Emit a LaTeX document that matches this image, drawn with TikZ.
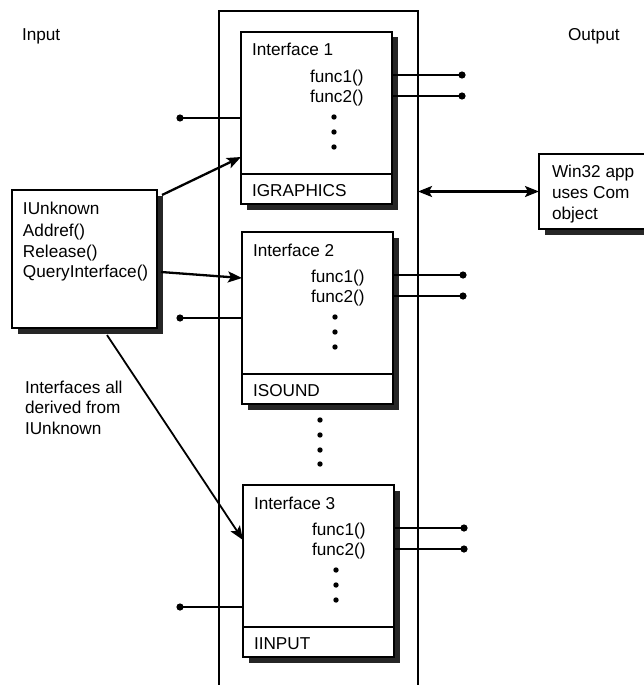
\documentclass[tikz,border=0pt]{standalone}
\usepackage{fontspec}
\setmainfont{Liberation Sans}
\usetikzlibrary{arrows.meta,shadows}

% One COM interface: frame, name, functions, footer tag and its pins.
% #1 name, #2 left x, #3 top y, #4 title, #5 tag, #6 offset of the input pin
\newcommand\ifaceblock[6]{%
  \node[ifbox] (#1) at (#2,#3) {};
  \draw[frameline] ([yshift=30pt]#1.south west) -- ([yshift=30pt]#1.south east);
  \node[lbl] (#1-title) at ({#2+11},{#3+24}) {#4};
  \node[lbl] (#1-f1) at ({#2+69},{#3+50}) {func1()};
  \node[lbl] (#1-f2) at ({#2+69},{#3+70}) {func2()};
  \foreach \d in {85,100,115} \fill ({#2+93},{#3+\d}) circle (2.7pt);
  \node[lbl] (#1-tag) at ({#2+11},{#3+164}) {#5};
  \coordinate (#1-o1) at ({#2+221},{#3+43});
  \coordinate (#1-o2) at ({#2+221},{#3+64});
  \coordinate (#1-in) at (180,{#3+#6});
  \draw[conn] (#1.east |- #1-o1) -- (#1-o1);
  \draw[conn] (#1.east |- #1-o2) -- (#1-o2);
  \draw[conn] (#1-in) -- (#1.west |- #1-in);
  \fill (#1-o1) circle (3.6pt);
  \fill (#1-o2) circle (3.6pt);
  \fill (#1-in) circle (3.6pt);
}

\begin{document}
\begin{tikzpicture}[x=1pt,y=-1pt,
  every node/.style={inner sep=0pt, outer sep=0pt},
  lbl/.style={font=\fontsize{17.2}{20}\selectfont, anchor=base west},
  frameline/.style={line width=1.8pt},
  framebox/.style={draw, frameline, fill=white,
    drop shadow={shadow xshift=5.5pt, shadow yshift=-5.5pt, fill=black!85, opacity=1}},
  ifbox/.style={framebox, minimum width=151pt, minimum height=172pt, anchor=north west},
  conn/.style={line width=2.3pt},
  tip/.tip={Stealth[length=14pt,width=11pt,inset=3pt]},
  arr/.style={conn, -tip},
  dblarr/.style={conn, tip-tip}
]
\useasboundingbox (0,0) rectangle (644,685);
\clip (0,0) rectangle (644,685);

% COM object frame
\node[draw, frameline, minimum width=199pt, minimum height=720pt, anchor=north west] (obj) at (219,11) {};

% column headings
\node[lbl] (inhead) at (22,41) {Input};
\node[lbl] (outhead) at (568,41) {Output};

% the interfaces
\ifaceblock{ia}{241}{32}{Interface 1}{IGRAPHICS}{86}
\ifaceblock{ib}{242}{232}{Interface 2}{ISOUND}{86}
\ifaceblock{ic}{243}{485}{Interface 3}{IINPUT}{122}

% more interfaces in between
\foreach \y in {420,435,450,464} \fill (320,\y) circle (2.7pt);

% IUnknown base interface
\node[framebox, minimum width=145pt, minimum height=138pt, anchor=north west] (unk) at (12,190) {};
\node[lbl] (unk-a) at (23,214) {IUnknown};
\node[lbl] (unk-b) at (23,236) {Addref()};
\node[lbl] (unk-c) at (23,257) {Release()};
\node[lbl] (unk-d) at (23,277) {QueryInterface()};

\node[lbl] (note-a) at (25,393) {Interfaces all};
\node[lbl] (note-b) at (25,413) {derived from};
\node[lbl] (note-c) at (25,434) {IUnknown};

% client application
\node[framebox, minimum width=140pt, minimum height=75pt, anchor=north west] (win) at (539,154) {};
\node[lbl] (win-a) at (552,177) {Win32 app};
\node[lbl] (win-b) at (552,198) {uses Com};
\node[lbl] (win-c) at (552,219) {object};

% connectors
\draw[arr] ([xshift=5pt,yshift=-5pt]unk.north east) -- ([yshift=-39pt]ia.west);
\draw[arr] ([xshift=4pt,yshift=-13pt]unk.east) -- ([yshift=40pt]ib.west);
\draw[arr, line width=1.8pt] ([xshift=22.5pt,yshift=-7pt]unk.south) -- ([yshift=31pt]ic.west);
\draw[dblarr] (win.west -| obj.east) -- (win.west);
\end{tikzpicture}
\end{document}
